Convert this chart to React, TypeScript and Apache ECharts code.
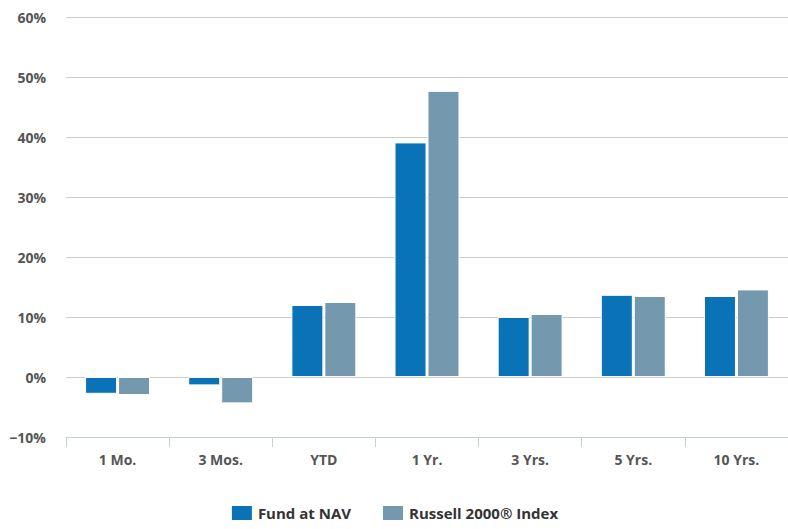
import React, { useEffect, useRef } from "react";
import * as echarts from "echarts";

const categories = ["1 Mo.", "3 Mos.", "YTD", "1 Yr.", "3 Yrs.", "5 Yrs.", "10 Yrs."];
const fundValues = [-2.8, -1.4, 12.0, 39.1, 10.0, 13.7, 13.5];
const indexValues = [-3.0, -4.4, 12.5, 47.7, 10.5, 13.5, 14.6];
const seriesNames = ["Fund at NAV", "Russell 2000® Index"];
const colors = ["#0A72B6", "#7499AE"];

export default function App() {
  const ref = useRef<HTMLDivElement>(null);
  useEffect(() => {
    if (!ref.current) return;
    const chart = echarts.init(ref.current, undefined, { renderer: "svg" });
    const font = "'Open Sans', 'Noto Sans', sans-serif";
    chart.setOption({
      animation: false,
      textStyle: { fontFamily: font },
      grid: { left: 66, right: 0, top: 17, bottom: 92, containLabel: false },
      legend: {
        bottom: 2,
        left: "center",
        itemWidth: 22,
        itemHeight: 16,
        itemGap: 30,
        icon: "rect",
        textStyle: { fontSize: 15, fontWeight: "bold", color: "#333", fontFamily: font },
        data: seriesNames,
      },
      xAxis: {
        type: "category",
        data: categories,
        position: "bottom",
        axisLine: { onZero: false, lineStyle: { color: "#C0D0E0", width: 1 } },
        axisTick: { show: true, length: 10, alignWithLabel: false, lineStyle: { color: "#C0D0E0" } },
        axisLabel: { fontSize: 14, fontWeight: "bold", color: "#555", margin: 15, fontFamily: font },
        splitLine: { show: false },
      },
      yAxis: {
        type: "value",
        min: -10,
        max: 60,
        interval: 10,
        axisLine: { show: false },
        axisTick: { show: false },
        axisLabel: {
          fontSize: 14,
          fontWeight: "bold",
          color: "#555",
          margin: 20,
          fontFamily: font,
          formatter: (v: number) => (v < 0 ? "\u2212" + Math.abs(v) + "%" : v + "%"),
        },
        splitLine: { lineStyle: { color: "#CCCCCC", width: 1 } },
      },
      series: [
        {
          name: seriesNames[0],
          type: "bar",
          data: fundValues,
          barWidth: 32,
          barGap: "3%",
          itemStyle: { color: colors[0], borderColor: "#fff", borderWidth: 1 },
        },
        {
          name: seriesNames[1],
          type: "bar",
          data: indexValues,
          barWidth: 32,
          barGap: "3%",
          itemStyle: { color: colors[1], borderColor: "#fff", borderWidth: 1 },
        },
      ],
    });
    return () => chart.dispose();
  }, []);
  return <div ref={ref} style={{ width: 788, height: 529, position: "absolute", left: 0, top: 0 }} />;
}
